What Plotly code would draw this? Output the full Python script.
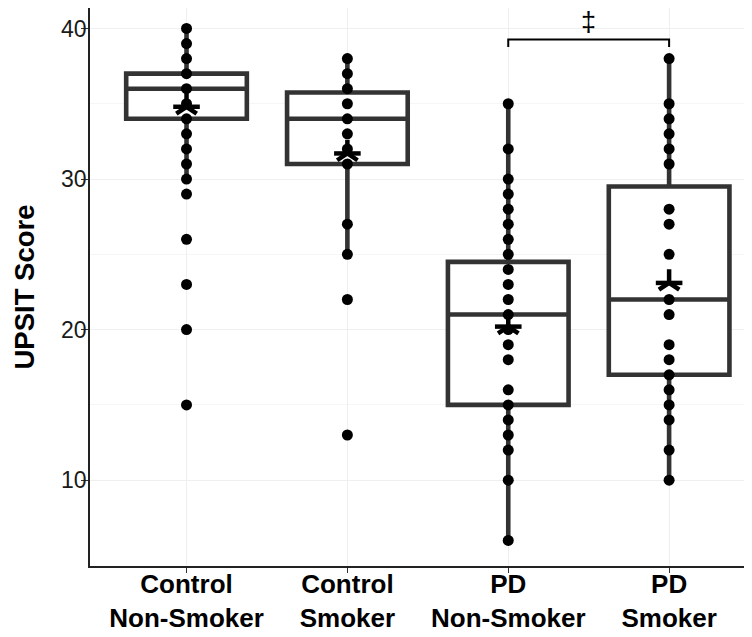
import plotly.graph_objects as go

# ---- data ----
categories = ["Control<br>Non-Smoker", "Control<br>Smoker", "PD<br>Non-Smoker", "PD<br>Smoker"]
q1 = [34, 31, 15, 17]
median = [36, 34, 21, 22]
q3 = [37, 35.75, 24.5, 29.5]
lower_whisker = [30, 25, 6, 10]
upper_whisker = [40, 38, 35, 38]
means = [34.8, 31.7, 20.2, 23.1]

scores_control_nonsmoker = [40, 39, 38, 37, 36, 35, 34, 33, 32, 31, 30, 29, 26, 23, 20, 15]
scores_control_smoker = [38, 37, 36, 35, 34, 33, 32, 31, 27, 25, 22, 13]
scores_pd_nonsmoker = [35, 32, 30, 29, 28, 27, 26, 25, 24, 23, 22, 21, 20, 19, 18, 16, 15, 14, 13, 12, 10, 6]
scores_pd_smoker = [38, 35, 34, 33, 32, 31, 28, 27, 25, 22, 21, 19, 18, 17, 16, 15, 14, 12, 10]

sig_pair = [2, 3]
sig_y = 39.27
sig_tip = 0.5
sig_label = "‡"
sig_label_y = 40.45

y_ticks = [10, 20, 30, 40]

# ---- figure ----
groups = [scores_control_nonsmoker, scores_control_smoker, scores_pd_nonsmoker, scores_pd_smoker]
pos = list(range(len(categories)))
box_color = "#333333"

fig = go.Figure()
fig.add_trace(go.Box(
    x=pos, q1=q1, median=median, q3=q3,
    lowerfence=lower_whisker, upperfence=upper_whisker,
    width=0.75, whiskerwidth=0, boxpoints=False,
    line=dict(color=box_color, width=4.6), fillcolor="white",
    showlegend=False, hoverinfo="skip",
))

for i, vals in enumerate(groups):
    fig.add_trace(go.Scatter(
        x=[pos[i]] * len(vals), y=vals, mode="markers",
        marker=dict(color="black", size=11, line=dict(width=0)),
        showlegend=False, hoverinfo="skip",
    ))

# mean asterisks (5-arm): up/down legs + horizontal arms
fig.add_trace(go.Scatter(
    x=pos, y=means, mode="markers",
    marker=dict(symbol="y-up-open", size=17, color="black", line=dict(color="black", width=4.5)),
    showlegend=False, hoverinfo="skip",
))
fig.add_trace(go.Scatter(
    x=pos, y=means, mode="markers",
    marker=dict(symbol="line-ew-open", size=19, color="black", line=dict(color="black", width=4.5)),
    showlegend=False, hoverinfo="skip",
))

# significance bracket
a, b = sig_pair
fig.add_trace(go.Scatter(
    x=[a, a, b, b], y=[sig_y - sig_tip, sig_y, sig_y, sig_y - sig_tip],
    mode="lines", line=dict(color="black", width=2),
    showlegend=False, hoverinfo="skip",
))
fig.add_annotation(x=(a + b) / 2, y=sig_label_y, text=sig_label, showarrow=False,
                   font=dict(family="Liberation Sans", size=27, color="black"))

grid_c = "#efefef"
fig.update_layout(
    width=752, height=637,
    margin=dict(l=82, r=0, t=0, b=79),
    plot_bgcolor="white", paper_bgcolor="white",
    font=dict(family="Liberation Sans", color="black"),
    xaxis=dict(
        range=[-0.6, 3.565], tickmode="array", tickvals=pos,
        ticktext=["<b>" + c + "</b>" for c in categories],
        tickfont=dict(size=26, color="black"),
        showgrid=True, gridcolor=grid_c, gridwidth=1,
        showline=True, linecolor="#222222", linewidth=1.6,
        ticks="outside", ticklen=5, tickcolor="#333333", tickwidth=1,
        ticklabelstandoff=-11,
        zeroline=False, automargin=False,
    ),
    yaxis=dict(
        range=[4.3, 41.36], tickmode="array", tickvals=y_ticks,
        tickfont=dict(size=23, color="#1a1a1a"),
        title=dict(text="<b>UPSIT Score</b>", font=dict(size=27.5, color="black"), standoff=18),
        showgrid=True, gridcolor=grid_c, gridwidth=1,
        minor=dict(tickvals=[15, 25, 35], showgrid=True, gridcolor="#f6f6f6", gridwidth=0.8, ticks=""),
        showline=True, linecolor="#222222", linewidth=1.6,
        ticks="outside", ticklen=7, tickcolor="#333333", tickwidth=1,
        ticklabelstandoff=-10,
        zeroline=False, automargin=False,
    ),
)

fig.write_html("out.html")
